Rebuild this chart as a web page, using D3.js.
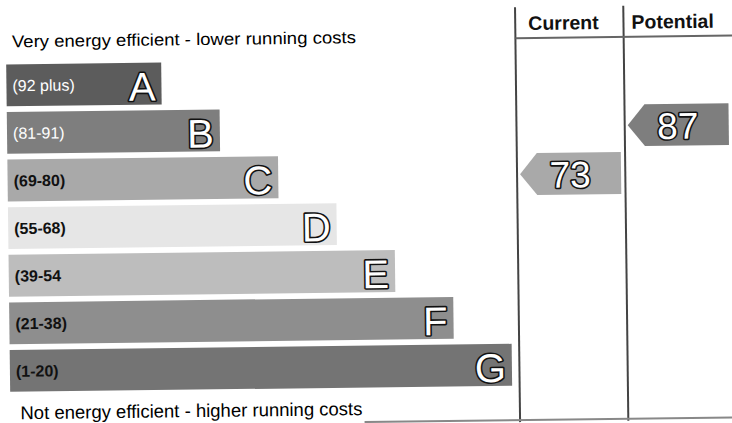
<!DOCTYPE html>
<html>
<head>
<meta charset="utf-8">
<script src="https://cdn.jsdelivr.net/npm/d3@7"></script>
<style>
  body { margin: 0; background: #fff; }
  svg { display: block; }
</style>
</head>
<body>
<div id="chart"></div>
<script>
// energy rating bands, best to worst
var bands = ['A', 'B', 'C', 'D', 'E', 'F', 'G'];
var rangeLabels = ['(92 plus)', '(81-91)', '(69-80)', '(55-68)', '(39-54', '(21-38)', '(1-20)'];
var bandMin = [92, 81, 69, 55, 39, 21, 1];
var columns = ['Current', 'Potential'];
var ratings = [73, 87];

// greys of the scanned certificate
var fillcolors = ['#5c5c5c', '#7e7e7e', '#a9a9a9', '#e6e6e6', '#bdbdbd', '#8e8e8e', '#747474'];

var width = 732, height = 423;

var svg = d3.select('#chart').append('svg')
  .attr('width', width)
  .attr('height', height);

// the scan is slightly skewed
var g = svg.append('g')
  .attr('transform', 'rotate(-0.7, 366, 211)');

var y = d3.scaleBand().domain(bands).range([60, 387.5]).paddingInner(0.12);
var barLen = d3.scaleLinear().domain([0, bands.length - 1]).range([155, 502]);
var colX = d3.scaleBand().domain(columns).range([517.5, 734]);

var font = "'Liberation Sans', Arial, sans-serif";

g.append('text')
  .attr('x', 14)
  .attr('y', 43)
  .attr('font-family', font)
  .attr('font-size', 17)
  .attr('textLength', 344)
  .attr('lengthAdjust', 'spacingAndGlyphs')
  .text('Very energy efficient - lower running costs');

g.append('text')
  .attr('x', 18)
  .attr('y', 415)
  .attr('font-family', font)
  .attr('font-size', 18.5)
  .attr('textLength', 342)
  .attr('lengthAdjust', 'spacingAndGlyphs')
  .text('Not energy efficient - higher running costs');

var rows = g.selectAll('g.band')
  .data(bands)
  .enter().append('g')
  .attr('class', 'band');

rows.append('rect')
  .attr('x', 8)
  .attr('y', function(d) { return y(d); })
  .attr('width', function(d, i) { return barLen(i); })
  .attr('height', y.bandwidth())
  .style('fill', function(d, i) { return fillcolors[i]; });

rows.append('text')
  .attr('x', 14)
  .attr('y', function(d) { return y(d) + y.bandwidth() / 2 + 6; })
  .attr('font-family', font)
  .attr('font-size', 16)
  .attr('font-weight', function(d, i) { return i < 2 ? 'normal' : 'bold'; })
  .style('fill', function(d, i) { return i < 2 ? '#fff' : '#111'; })
  .text(function(d, i) { return rangeLabels[i]; });

// outlined letters: stroke painted under the white fill
rows.append('text')
  .attr('x', function(d, i) { return 8 + barLen(i) - 6; })
  .attr('y', function(d) { return y(d) + y.bandwidth() - 4; })
  .attr('text-anchor', 'end')
  .attr('font-family', font)
  .attr('font-size', 40)
  .style('fill', '#fff')
  .style('stroke', '#111')
  .style('stroke-width', 3.2)
  .style('paint-order', 'stroke')
  .style('stroke-linejoin', 'round')
  .text(function(d) { return d; });

// column frame
g.selectAll('line.col')
  .data(columns)
  .enter().append('line')
  .attr('x1', function(d) { return colX(d); })
  .attr('x2', function(d) { return colX(d); })
  .attr('y1', 9)
  .attr('y2', 424)
  .style('stroke', '#444')
  .style('stroke-width', 2);

g.append('line')
  .attr('x1', colX('Current'))
  .attr('x2', 740)
  .attr('y1', 40)
  .attr('y2', 40)
  .style('stroke', '#666')
  .style('stroke-width', 2);

g.append('line')
  .attr('x1', 362)
  .attr('x2', 740)
  .attr('y1', 422)
  .attr('y2', 422)
  .style('stroke', '#888')
  .style('stroke-width', 2);

g.selectAll('text.head')
  .data(columns)
  .enter().append('text')
  .attr('class', 'head')
  .attr('x', function(d) { return colX(d) + (d == 'Current' ? 13 : 8); })
  .attr('y', 32)
  .attr('font-family', font)
  .attr('font-size', 19.5)
  .attr('font-weight', 'bold')
  .style('fill', '#111')
  .text(function(d) { return d; });

// rating arrows
var arrows = g.selectAll('g.arrow')
  .data(ratings)
  .enter().append('g')
  .attr('class', 'arrow');

function bandOf(r) {
  return bandMin.findIndex(function(m) { return r >= m; });
}

arrows.append('path')
  .attr('d', function(r, i) {
    var b = bands[bandOf(r)];
    var x0 = colX(columns[i]) + 3, x1 = x0 + 101;
    var t = y(b), h = y.bandwidth();
    return 'M' + x0 + ',' + (t + h / 2) +
      'L' + (x0 + 17) + ',' + t +
      'L' + x1 + ',' + t +
      'L' + x1 + ',' + (t + h) +
      'L' + (x0 + 17) + ',' + (t + h) + 'Z';
  })
  .style('fill', function(r) { return fillcolors[bandOf(r)]; });

arrows.append('text')
  .attr('x', function(r, i) { return colX(columns[i]) + 3 + 50; })
  .attr('y', function(r) { return y(bands[bandOf(r)]) + y.bandwidth() - 7; })
  .attr('text-anchor', 'middle')
  .attr('font-family', font)
  .attr('font-size', 37)
  .style('fill', '#fff')
  .style('stroke', '#111')
  .style('stroke-width', 3.2)
  .style('paint-order', 'stroke')
  .style('stroke-linejoin', 'round')
  .text(function(r) { return r; });
</script>
</body>
</html>
